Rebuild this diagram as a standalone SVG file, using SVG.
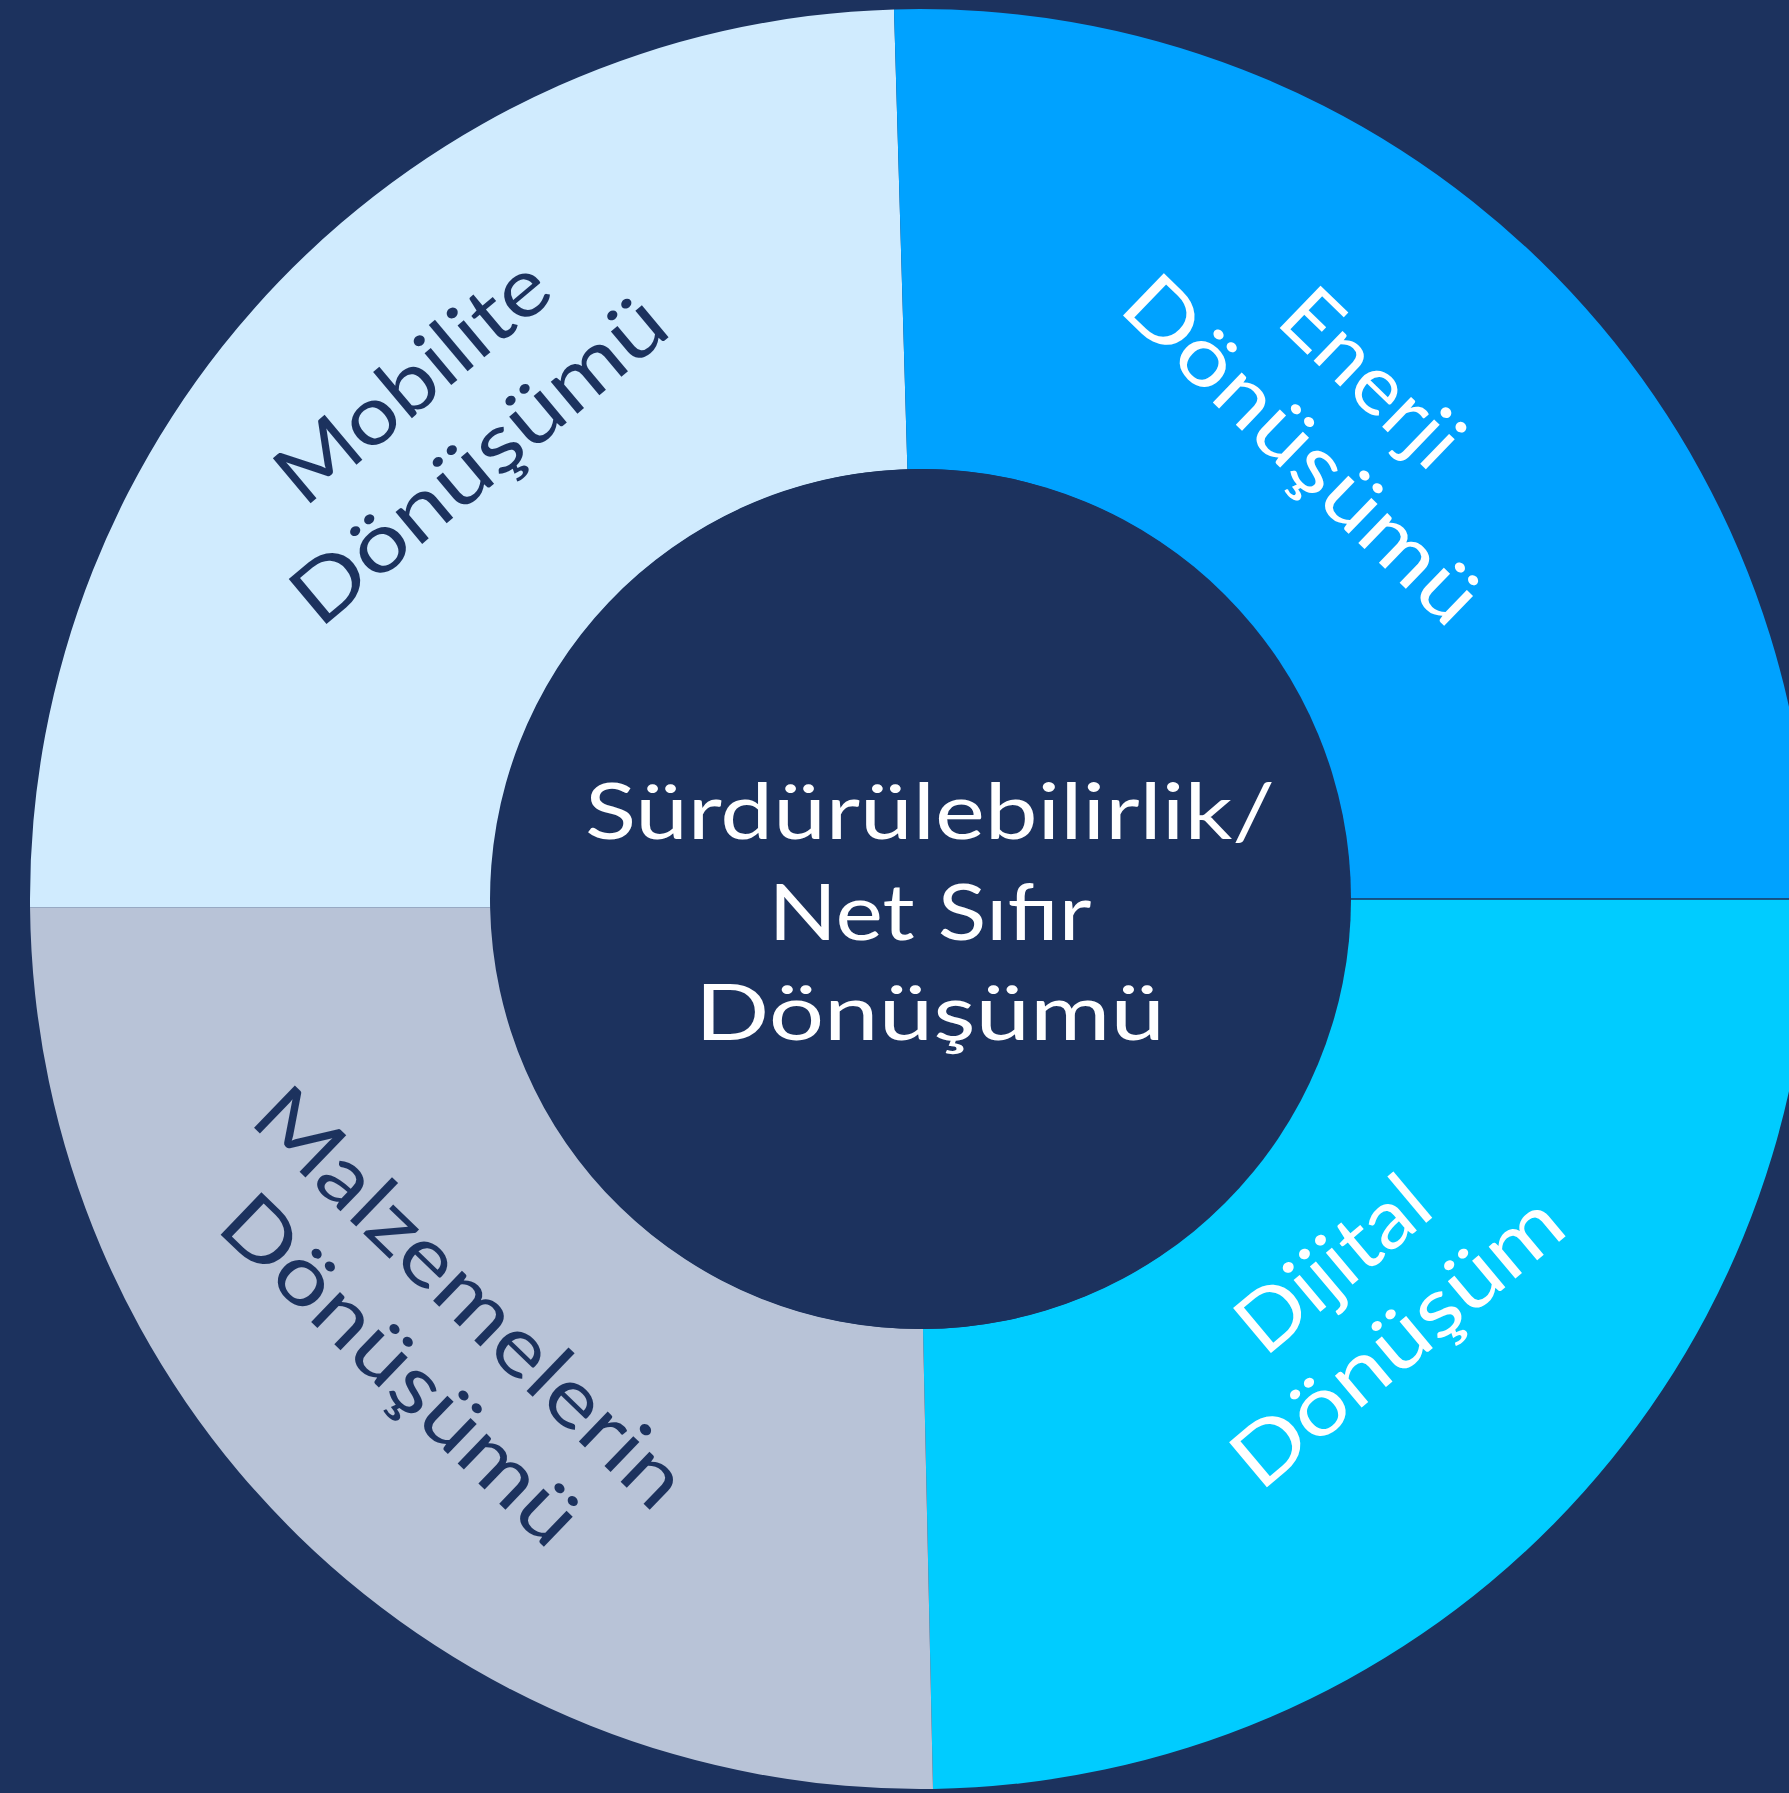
<svg xmlns="http://www.w3.org/2000/svg" width="1789" height="1793" viewBox="0 0 1789 1793">
  <style>
    .bg { fill: #1c325e; }
    .center-text { font-family: Lato, "Open Sans", sans-serif; font-size: 78px; fill: #ffffff; text-anchor: middle; }
    .label { font-family: Lato, "Open Sans", sans-serif; font-size: 82px; text-anchor: middle; }
    .dark { fill: #1c325e; }
    .light { fill: #ffffff; }
  </style>
  <rect class="bg" x="0" y="0" width="1789" height="1793"/>
  <g id="segments">
    <g id="mobilite">
      <path d="M 30.04 907.5 A 890 890 0 0 1 894 9.4 L 907.4 469.2 A 430 430 0 0 0 490.1 907.5 Z" fill="#d0ebfe"/>
      <text class="label dark" transform="translate(430.6,402.4) rotate(-40)"><tspan x="0" y="0" textLength="330" lengthAdjust="spacingAndGlyphs">Mobilite</tspan><tspan x="0" y="103" textLength="462" lengthAdjust="spacingAndGlyphs">Dönüşümü</tspan></text>
    </g>
    <g id="enerji">
      <path d="M 894 9.4 A 890 890 0 0 1 1810 898.3 L 1350 898.3 A 430 430 0 0 0 907.4 469.2 Z" fill="#00a2ff"/>
      <text class="label light" transform="translate(1352.3,398.1) rotate(44)"><tspan x="0" y="0" textLength="218" lengthAdjust="spacingAndGlyphs">Enerji</tspan><tspan x="0" y="100" textLength="462" lengthAdjust="spacingAndGlyphs">Dönüşümü</tspan></text>
    </g>
    <g id="dijital">
      <path d="M 1810 899.7 A 890 890 0 0 1 933 1788.9 L 923 1329 A 430 430 0 0 0 1350 899.7 Z" fill="#00ccff"/>
      <text class="label light" transform="translate(1351,1286) rotate(-40)"><tspan x="0" y="0" textLength="225" lengthAdjust="spacingAndGlyphs">Dijital</tspan><tspan x="0" y="100" textLength="405" lengthAdjust="spacingAndGlyphs">Dönüşüm</tspan></text>
    </g>
    <g id="malzemelerin">
      <path d="M 933 1788.9 A 890 890 0 0 1 30.04 907.5 L 490.1 907.5 A 430 430 0 0 0 923 1329 Z" fill="#b8c3d7"/>
      <text class="label dark" transform="translate(451,1318) rotate(44)"><tspan x="0" y="0" textLength="565" lengthAdjust="spacingAndGlyphs">Malzemelerin</tspan><tspan x="0" y="100" textLength="465" lengthAdjust="spacingAndGlyphs">Dönüşümü</tspan></text>
    </g>
  </g>
  <g id="center">
    <circle class="bg" cx="921" cy="899" r="430"/>
    <text class="center-text"><tspan x="930" y="839" textLength="690" lengthAdjust="spacingAndGlyphs">Sürdürülebilirlik/</tspan><tspan x="930" y="940" textLength="323" lengthAdjust="spacingAndGlyphs">Net Sıfır</tspan><tspan x="930" y="1040" textLength="470" lengthAdjust="spacingAndGlyphs">Dönüşümü</tspan></text>
  </g>
  <g id="connectors"/>
</svg>
